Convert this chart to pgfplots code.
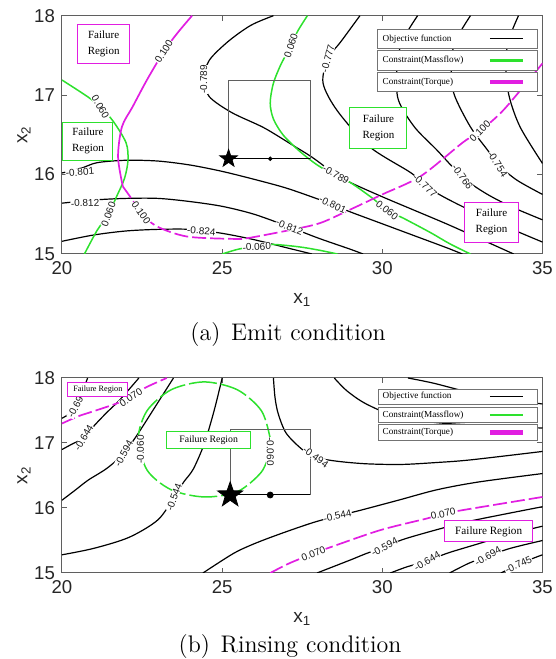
\documentclass[border=0pt]{standalone}
\usepackage{fontspec}
\usepackage{pgfplots}
\pgfplotsset{compat=1.18}
\newfontfamily\arialf{Liberation Sans}
\newfontfamily\timesf{Liberation Serif}
\definecolor{mgreen}{RGB}{45,225,45}
\definecolor{mmag}{RGB}{225,30,225}
\definecolor{framegray}{RGB}{95,95,95}

\pgfdeclareplotmark{fstar}{%
  \pgfpathmoveto{\pgfpointpolar{90}{\pgfplotmarksize}}%
  \pgfpathlineto{\pgfpointpolar{126}{0.4\pgfplotmarksize}}%
  \pgfpathlineto{\pgfpointpolar{162}{\pgfplotmarksize}}%
  \pgfpathlineto{\pgfpointpolar{198}{0.4\pgfplotmarksize}}%
  \pgfpathlineto{\pgfpointpolar{234}{\pgfplotmarksize}}%
  \pgfpathlineto{\pgfpointpolar{270}{0.4\pgfplotmarksize}}%
  \pgfpathlineto{\pgfpointpolar{306}{\pgfplotmarksize}}%
  \pgfpathlineto{\pgfpointpolar{342}{0.4\pgfplotmarksize}}%
  \pgfpathlineto{\pgfpointpolar{18}{\pgfplotmarksize}}%
  \pgfpathlineto{\pgfpointpolar{54}{0.4\pgfplotmarksize}}%
  \pgfpathclose\pgfusepathqfillstroke}

\pgfplotsset{
  myax/.style={scale only axis, width=240.25pt,
    xmin=20,xmax=35,ymin=15,ymax=18,
    xtick={20,25,30,35}, ytick={15,16,17,18},
    tick align=inside, major tick length=2.5pt,
    axis line style={framegray,line width=0.5pt},
    every tick/.style={framegray,line width=0.5pt},
    tick label style={font=\arialf\fontsize{9.3}{10}\selectfont, text=black!85},
    /pgf/number format/assume math mode=true,
    xlabel={x\textsubscript{1}}, ylabel={x\textsubscript{2}},
    label style={font=\arialf\fontsize{9.5}{10}\selectfont, text=black!85},
    xlabel style={at={([yshift=-23pt]axis description cs:0.5,0)}, anchor=center},
    ylabel style={at={([xshift=-19pt]axis description cs:0,0.5)}, anchor=center},
  },
  obj/.style={black, line width=0.6pt, smooth},
  mf/.style={mgreen, line width=0.75pt, smooth},
  mfd/.style={mf, dash pattern=on 14pt off 2pt},
  tq/.style={mmag, line width=0.85pt, smooth},
  tqd/.style={tq, dash pattern=on 7pt off 2pt},
}
\tikzset{
  cl/.style={font=\arialf\fontsize{5}{6}\selectfont, fill=white, inner sep=0.2pt, text=black!90},
  lgbox/.style={draw=black!55, fill=white, line width=0.5pt},
  lgtxt/.style={anchor=west, font=\timesf\fontsize{4.6}{5}\selectfont, inner sep=0pt},
}

\begin{document}
\begin{tikzpicture}
\useasboundingbox (0,0) rectangle (278pt,329.5pt);

%%%%%%%%%%%%%%%% (a) Emit condition
\begin{axis}[myax, height=119.15pt, at={(31pt,202.5pt)}, anchor=south west]
% objective
\addplot[obj] coordinates {(20,15.16)(21,15.24)(22,15.29)(23,15.31)(24,15.31)(25,15.26)(26,15.18)(27,15.08)(27.8,15.0)};
\addplot[obj] coordinates {(20,15.64)(21,15.68)(22,15.7)(23,15.7)(24,15.66)(25,15.6)(26,15.5)(27.1,15.34)(28,15.2)(29,15.06)(29.4,15.0)};
\addplot[obj] coordinates {(20,16.02)(20.6,16.08)(21.1,16.15)(22,16.18)(23,16.17)(24,16.12)(25,16.04)(26,15.94)(27,15.83)(28,15.69)(28.45,15.62)(29,15.53)(30,15.38)(31,15.23)(32,15.08)(32.5,15.0)};
\addplot[obj] coordinates {(26.6,18)(25.9,17.88)(25.2,17.68)(24.6,17.44)(24.42,17.2)(24.6,16.98)(25.3,16.78)(26.3,16.59)(27.2,16.37)(27.8,16.22)(28.55,16.0)(29,15.9)(30,15.72)(31,15.55)(32,15.38)(33,15.2)(34.1,15.0)};
\addplot[obj] coordinates {(29.3,18)(28.7,17.67)(28.3,17.46)(28.15,17.15)(28.6,16.8)(29.6,16.35)(30.9,16.02)(31.33,15.86)(32,15.7)(33,15.5)(34,15.32)(35,15.15)};
\addplot[obj] coordinates {(31.1,18)(30.6,17.66)(30.45,17.3)(30.5,16.94)(31,16.6)(31.7,16.31)(32.5,15.97)(33.2,15.77)(34,15.6)(35,15.43)};
\addplot[obj] coordinates {(32.75,18)(32.25,17.65)(32.15,17.3)(32.25,17.0)(32.75,16.6)(33.3,16.3)(33.6,16.13)(34.2,15.93)(35,15.75)};
\addplot[obj] coordinates {(34.25,18)(33.95,17.7)(33.85,17.4)(33.95,17.0)(34.3,16.6)(35,16.14)};
% massflow
\addplot[mf] coordinates {(20,17.19)(20.8,16.98)(21.2,16.85)(21.6,16.67)(22.0,16.4)(22.06,16.18)(21.95,15.95)(21.7,15.72)(21.45,15.5)(21.1,15.3)(20.7,15.0)};
\addplot[mf] coordinates {(27.66,18)(27.35,17.8)(27.15,17.62)(26.85,17.4)(26.6,17.15)(26.5,16.9)(26.6,16.7)(26.9,16.5)(27.4,16.3)(27.97,16.12)(28.5,16.0)(29,15.9)(29.7,15.7)(30.15,15.55)(30.66,15.45)(31.5,15.27)(32.1,15.13)(32.75,15.0)};
\addplot[mf] coordinates {(25.0,15.0)(25.5,15.06)(26.08,15.1)(26.6,15.12)(27.4,15.09)(28.0,15.05)(28.6,15.0)};
% torque
\addplot[tq] coordinates {(24.06,18)(23.6,17.78)(23.18,17.55)(22.65,17.19)(22.2,16.85)(21.87,16.6)(21.75,16.22)(21.9,15.85)};
\addplot[tqd] coordinates {(21.9,15.85)(22.2,15.68)(22.47,15.52)(22.95,15.35)(23.9,15.22)(25.35,15.19)(25.8,15.2)(27.1,15.3)(28.06,15.39)(29,15.56)(30,15.75)(31.2,15.98)(32.5,16.4)(33.05,16.55)(33.8,16.82)(35,17.4)};
% box, star
\draw[framegray, line width=0.5pt] (axis cs:25.2,16.2) rectangle (axis cs:27.75,17.19);
\addplot[black, line width=0.5pt] coordinates {(25.2,16.2)(27.75,16.2)};
\addplot[only marks, mark=fstar, mark size=4.6pt, black] coordinates {(25.2,16.2)};
\addplot[only marks, mark=*, mark size=0.9pt, black] coordinates {(26.5,16.2)};
% contour labels
\node[cl, rotate=-5] at (axis cs:24.35,15.29) {-0.824};
\node[cl, rotate=2] at (axis cs:20.72,15.64) {-0.812};
\node[cl, rotate=-22] at (axis cs:27.1,15.34) {-0.812};
\node[cl, rotate=5] at (axis cs:20.56,16.03) {-0.801};
\node[cl, rotate=-25] at (axis cs:28.45,15.62) {-0.801};
\node[cl, rotate=90] at (axis cs:24.42,17.2) {-0.789};
\node[cl, rotate=-30] at (axis cs:28.55,16.0) {-0.789};
\node[cl, rotate=75] at (axis cs:28.3,17.46) {-0.777};
\node[cl, rotate=-42] at (axis cs:31.33,15.86) {-0.777};
\node[cl, rotate=-55] at (axis cs:32.5,15.97) {-0.766};
\node[cl, rotate=-58] at (axis cs:33.6,16.13) {-0.754};
\node[cl, rotate=-60] at (axis cs:21.2,16.85) {0.060};
\node[cl, rotate=70] at (axis cs:21.45,15.5) {0.060};
\node[cl, rotate=72] at (axis cs:27.15,17.62) {0.060};
\node[cl, rotate=-38] at (axis cs:30.15,15.55) {0.060};
\node[cl, rotate=3] at (axis cs:26.08,15.09) {-0.060};
\node[cl, rotate=58] at (axis cs:23.18,17.55) {0.100};
\node[cl, rotate=-55] at (axis cs:22.47,15.52) {0.100};
\node[cl, rotate=45] at (axis cs:33.05,16.55) {0.100};
% failure regions
\draw[mmag, fill=white, line width=0.5pt] (axis cs:20.47,17.392) rectangle (axis cs:22.12,17.883);
\node[align=center, font=\timesf\fontsize{5.5}{8}\selectfont] at (axis cs:21.3,17.64) {Failure\\Region};
\draw[mgreen, fill=white, line width=0.5pt] (axis cs:20.03,16.18) rectangle (axis cs:21.59,16.66);
\node[align=center, font=\timesf\fontsize{5.5}{8}\selectfont] at (axis cs:20.81,16.42) {Failure\\Region};
\draw[mgreen, fill=white, line width=0.5pt] (axis cs:28.99,16.33) rectangle (axis cs:30.77,16.85);
\node[align=center, font=\timesf\fontsize{5.5}{8}\selectfont] at (axis cs:29.88,16.59) {Failure\\Region};
\draw[mmag, fill=white, line width=0.5pt] (axis cs:32.58,15.15) rectangle (axis cs:34.24,15.65);
\node[align=center, font=\timesf\fontsize{5.5}{8}\selectfont] at (axis cs:33.41,15.40) {Failure\\Region};
% legend
\draw[lgbox] (axis cs:29.86,17.585) rectangle (axis cs:34.83,17.83);
\draw[lgbox] (axis cs:29.86,17.316) rectangle (axis cs:34.83,17.556);
\draw[lgbox] (axis cs:29.86,17.043) rectangle (axis cs:34.83,17.282);
\node[lgtxt] at (axis cs:30.0,17.707) {Objective function};
\node[lgtxt] at (axis cs:30.0,17.436) {Constraint(Massflow)};
\node[lgtxt] at (axis cs:30.0,17.163) {Constraint(Torque)};
\addplot[black, line width=0.5pt] coordinates {(33.36,17.707)(34.39,17.707)};
\addplot[mgreen, line width=1.2pt] coordinates {(33.36,17.436)(34.39,17.436)};
\addplot[mmag, line width=2.2pt] coordinates {(33.36,17.163)(34.39,17.163)};
\end{axis}

%%%%%%%%%%%%%%%% (b) Rinsing condition
\begin{axis}[myax, height=97.5pt, at={(31pt,43pt)}, anchor=south west]
% objective
\addplot[obj] coordinates {(20,17.38)(20.3,17.47)(20.42,17.55)(20.62,17.77)(20.8,18)};
\addplot[obj] coordinates {(20,16.9)(20.3,16.98)(20.68,17.08)(21.03,17.28)(21.4,17.47)(21.76,17.64)(22.05,17.8)(22.4,18)};
\addplot[obj] coordinates {(20,16.12)(20.4,16.27)(20.82,16.43)(21.4,16.61)(21.93,16.84)(22.38,17.15)(22.9,17.55)(23.48,18)};
\addplot[obj] coordinates {(25.0,18)(24.75,17.5)(24.45,17.0)(24.1,16.6)(23.8,16.4)(23.5,16.17)(23.0,15.82)(22.1,15.55)(21,15.38)(20,15.28)};
\addplot[obj] coordinates {(24.4,15.0)(25.35,15.3)(26,15.45)(26.8,15.6)(27.8,15.77)(28.6,15.88)(29.2,15.95)(30.5,16.12)(31.7,16.28)(33,16.4)(35,16.53)};
\addplot[obj] coordinates {(26.6,18)(26.65,17.7)(26.75,17.45)(27.0,17.15)(27.5,16.9)(27.92,16.78)(28.58,16.72)(29.5,16.68)(30.6,16.67)(31.7,16.7)(32.75,16.74)(35,16.87)};
\addplot[obj] coordinates {(28.5,18)(28.9,17.8)(29.5,17.6)(30.5,17.4)(32,17.3)(35,17.23)};
\addplot[obj] coordinates {(30.8,18)(31.6,17.92)(33,17.75)(35,17.6)};
\addplot[obj] coordinates {(27.96,15.0)(29.0,15.2)(29.5,15.3)(30.07,15.4)(30.67,15.52)(31.8,15.68)(32.75,15.8)(35,16.02)};
\addplot[obj] coordinates {(30.25,15.0)(30.8,15.1)(31.4,15.18)(32.0,15.3)(33,15.45)(34,15.6)(35,15.72)};
\addplot[obj] coordinates {(32.1,15.0)(32.7,15.15)(33.3,15.26)(34,15.38)(35,15.5)};
\addplot[obj] coordinates {(33.7,15.0)(34.25,15.13)(34.73,15.23)(35,15.28)};
% massflow
\addplot[mfd] coordinates {(26.5,16.87)(26.5,17.07)(26.22,17.5)(25.47,17.82)(24.44,17.94)(23.41,17.82)(22.66,17.5)(22.38,17.07)(22.66,16.58)(23.41,16.28)(24.44,16.17)(25.47,16.25)(26.22,16.55)(26.5,16.87)};
% torque
\addplot[tqd] coordinates {(20,17.30)(20.5,17.41)(20.93,17.48)(21.66,17.6)(22.15,17.7)(22.6,17.85)(23.27,18)};
\addplot[tqd] coordinates {(26.5,15.0)(27.1,15.15)(27.85,15.3)(28.4,15.4)(29.94,15.66)(31.4,15.84)(31.9,15.91)(32.54,15.97)(35,16.17)};
% box, star
\draw[framegray, line width=0.5pt] (axis cs:25.25,16.2) rectangle (axis cs:27.75,17.2);
\addplot[black, line width=0.5pt] coordinates {(25.25,16.2)(27.75,16.2)};
\addplot[only marks, mark=fstar, mark size=6.6pt, black] coordinates {(25.25,16.2)};
\addplot[only marks, mark=*, mark size=1.5pt, black] coordinates {(26.5,16.2)};
% contour labels
\node[cl, rotate=62] at (axis cs:20.42,17.55) {-0.69};
\node[cl, rotate=60] at (axis cs:20.68,17.08) {-0.644};
\node[cl, rotate=62] at (axis cs:21.93,16.84) {-0.594};
\node[cl, rotate=70] at (axis cs:23.5,16.17) {-0.544};
\node[cl, rotate=12] at (axis cs:28.6,15.88) {-0.544};
\node[cl, rotate=-35] at (axis cs:27.92,16.78) {-0.494};
\node[cl, rotate=28] at (axis cs:30.07,15.4) {-0.594};
\node[cl, rotate=30] at (axis cs:31.4,15.18) {-0.644};
\node[cl, rotate=30] at (axis cs:33.3,15.26) {-0.694};
\node[cl, rotate=25] at (axis cs:34.25,15.13) {-0.745};
\node[cl, rotate=33] at (axis cs:22.15,17.7) {0.070};
\node[cl, rotate=22] at (axis cs:27.85,15.3) {0.070};
\node[cl, rotate=12] at (axis cs:31.9,15.91) {0.070};
\node[cl, rotate=90] at (axis cs:22.45,16.9) {-0.060};
\node[cl, rotate=-90] at (axis cs:26.5,16.87) {-0.060};
% failure regions
\draw[mmag, fill=white, line width=0.5pt] (axis cs:20.18,17.723) rectangle (axis cs:22.05,17.928);
\node[font=\timesf\fontsize{4.1}{5}\selectfont] at (axis cs:21.12,17.83) {Failure Region};
\draw[mgreen, fill=white, line width=0.5pt] (axis cs:23.25,16.92) rectangle (axis cs:25.9,17.17);
\node[font=\timesf\fontsize{4.9}{6}\selectfont] at (axis cs:24.58,17.045) {Failure Region};
\draw[mmag, fill=white, line width=0.5pt] (axis cs:31.93,15.48) rectangle (axis cs:34.7,15.805);
\node[font=\timesf\fontsize{5.6}{6}\selectfont] at (axis cs:33.32,15.64) {Failure Region};
% legend
\draw[lgbox] (axis cs:29.87,17.595) rectangle (axis cs:34.83,17.83);
\draw[lgbox] (axis cs:29.87,17.312) rectangle (axis cs:34.83,17.549);
\draw[lgbox] (axis cs:29.87,17.046) rectangle (axis cs:34.83,17.277);
\node[lgtxt] at (axis cs:30.0,17.712) {Objective function};
\node[lgtxt] at (axis cs:30.0,17.43) {Constraint(Massflow)};
\node[lgtxt] at (axis cs:30.0,17.16) {Constraint(Torque)};
\addplot[black, line width=0.5pt] coordinates {(33.36,17.712)(34.39,17.712)};
\addplot[mgreen, line width=1.2pt] coordinates {(33.36,17.43)(34.39,17.43)};
\addplot[mmag, line width=2.2pt] coordinates {(33.36,17.16)(34.39,17.16)};
\end{axis}

\node[font=\fontsize{12}{14}\selectfont, inner sep=0pt] at (144pt,162pt) {(a)\hspace{0.45em}Emit condition};
\node[font=\fontsize{12}{14}\selectfont, inner sep=0pt] at (145pt,6pt) {(b)\hspace{0.45em}Rinsing condition};
\end{tikzpicture}
\end{document}
